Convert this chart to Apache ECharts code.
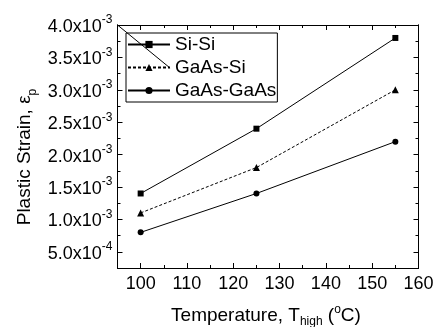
<!DOCTYPE html>
<html><head><meta charset="utf-8">
<script src="https://cdn.jsdelivr.net/npm/echarts@6/dist/echarts.min.js"></script>
<style>html,body{margin:0;padding:0;background:#fff}#c{width:438px;height:327px}</style>
</head><body><div id="c"></div>
<script>
// ---- data ----
const temps = [100, 125, 155];
const siSi = [1.4e-3, 2.4e-3, 3.8e-3];
const gaasSi = [1.1e-3, 1.8e-3, 3.0e-3];
const gaasGaas = [0.8e-3, 1.4e-3, 2.2e-3];
const seriesNames = ['Si-Si', 'GaAs-Si', 'GaAs-GaAs'];
const xMajorTicks = [100, 110, 120, 130, 140, 150, 160];
const yMajorTicks = [0.5e-3, 1.0e-3, 1.5e-3, 2.0e-3, 2.5e-3, 3.0e-3, 3.5e-3, 4.0e-3];
const artifactX = [95, 106.35];
const artifactY = [4.0e-3, 3.336e-3];

const FONT = '"Liberation Sans", Arial, sans-serif';
const X_MIN = 95, X_MAX = 160, X_MINOR = 5;
const Y_MIN = 0.25e-3, Y_MAX = 4.0e-3, Y_MINOR = 0.25e-3;

function sci(v) {
  const e = Math.floor(Math.log10(v) + 1e-9);
  const m = v / Math.pow(10, e);
  return '{m|' + m.toFixed(1) + 'x10}{s|' + e + '}';
}

const axLine = { show: true, lineStyle: { color: '#000', width: 1 } };
function xAx(pos, major, labels) {
  const a = {
    type: 'value', position: pos, min: X_MIN, max: X_MAX,
    axisLine: axLine, splitLine: { show: false },
    axisTick: major ? { show: true, inside: true, length: 5, customValues: xMajorTicks, lineStyle: { color: '#000' } }
                    : { show: true, inside: true, length: 3, lineStyle: { color: '#000' } },
    axisLabel: labels ? { show: true, customValues: xMajorTicks, fontSize: 18, fontFamily: FONT, color: '#000', margin: 7 }
                      : { show: false }
  };
  if (!major) a.interval = X_MINOR;
  return a;
}
function yAx(pos, major, labels) {
  const a = {
    type: 'value', position: pos, min: Y_MIN, max: Y_MAX,
    axisLine: axLine, splitLine: { show: false },
    axisTick: major ? { show: true, inside: true, length: 5, customValues: yMajorTicks, lineStyle: { color: '#000' } }
                    : { show: true, inside: true, length: 3, lineStyle: { color: '#000' } },
    axisLabel: labels ? {
      show: true, customValues: yMajorTicks, margin: 5, formatter: sci,
      rich: {
        m: { fontSize: 18, fontFamily: FONT, color: '#000', lineHeight: 22, verticalAlign: 'bottom' },
        s: { fontSize: 12, fontFamily: FONT, color: '#000', lineHeight: 12, verticalAlign: 'top' }
      }
    } : { show: false }
  };
  if (!major) a.interval = Y_MINOR;
  return a;
}

const pts = arr => temps.map((t, i) => [t, arr[i]]);

const option = {
  animation: false,
  backgroundColor: '#fff',
  grid: { left: 117.5, right: 19.5, top: 25, bottom: 59 },
  xAxis: [xAx('bottom', true, true), xAx('bottom', false, false), xAx('top', true, false), xAx('top', false, false)],
  yAxis: [yAx('left', true, true), yAx('left', false, false), yAx('right', true, false), yAx('right', false, false)],
  legend: {
    data: seriesNames, orient: 'vertical', left: 126, top: 33,
    itemWidth: 42, itemHeight: 9, itemGap: 4,
    padding: [2, 1, 2, 1],
    borderColor: '#000', borderWidth: 1, backgroundColor: 'transparent',
    textStyle: { fontSize: 19, fontFamily: FONT, color: '#000', lineHeight: 19 }
  },
  graphic: [
    {
      type: 'text', x: 27, y: 157, rotation: Math.PI / 2,
      style: {
        text: '{n|Plastic Strain, ε}{b|p}', align: 'center', verticalAlign: 'middle',
        rich: {
          n: { fontSize: 19, fontFamily: FONT, fill: '#000', lineHeight: 24, verticalAlign: 'top' },
          b: { fontSize: 12, fontFamily: FONT, fill: '#000', lineHeight: 24, verticalAlign: 'bottom' }
        }
      }
    },
    {
      type: 'text', x: 266, y: 316,
      style: {
        text: '{n|Temperature, T}{b|high}{n| (}{t|o}{n|C)}', align: 'center', verticalAlign: 'middle',
        rich: {
          n: { fontSize: 19, fontFamily: FONT, fill: '#000', lineHeight: 24, verticalAlign: 'middle' },
          b: { fontSize: 12, fontFamily: FONT, fill: '#000', lineHeight: 24, verticalAlign: 'bottom' },
          t: { fontSize: 12, fontFamily: FONT, fill: '#000', lineHeight: 24, verticalAlign: 'top' }
        }
      }
    }
  ],
  series: [
    { name: seriesNames[0], type: 'line', data: pts(siSi), symbol: 'rect', symbolSize: 6,
      itemStyle: { color: '#000' }, lineStyle: { color: '#000', width: 1, type: 'solid' } },
    { name: seriesNames[1], type: 'line', data: pts(gaasSi), symbol: 'triangle', symbolSize: 7,
      itemStyle: { color: '#000' }, lineStyle: { color: '#000', width: 1, type: [3, 2] } },
    { name: seriesNames[2], type: 'line', data: pts(gaasGaas), symbol: 'circle', symbolSize: 6,
      itemStyle: { color: '#000' }, lineStyle: { color: '#000', width: 1, type: 'solid' } },
    { name: 'artifact', type: 'line', data: artifactX.map((x, i) => [x, artifactY[i]]), symbol: 'none', silent: true,
      lineStyle: { color: '#000', width: 1 }, z: 10 }
  ]
};
echarts.init(document.getElementById('c'), null, { renderer: 'canvas' }).setOption(option);
</script></body></html>
